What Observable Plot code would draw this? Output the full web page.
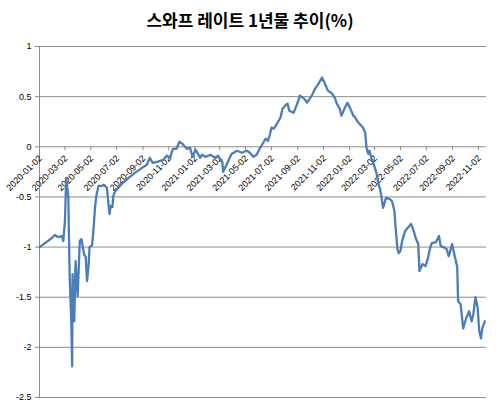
<!DOCTYPE html>
<html><head><meta charset="utf-8">
<script src="https://cdn.jsdelivr.net/npm/d3@7"></script>
<script src="https://cdn.jsdelivr.net/npm/@observablehq/plot@0.6"></script>
<style>
body{margin:0;background:#fff;width:500px;height:406px;overflow:hidden;}
#title{height:36px;line-height:36px;text-align:center;font-family:"Noto Sans CJK KR","Noto Sans",sans-serif;font-weight:700;font-size:17px;color:#000;padding-top:2px;box-sizing:border-box;}
</style></head><body>
<div id="title">스와프 레이트 1년물 추이(%)</div>
<div id="chart"></div>
<script>
const dates = ["2020-01-02","2020-01-15","2020-01-31","2020-02-07","2020-02-14","2020-02-24","2020-02-27","2020-03-02","2020-03-05","2020-03-10","2020-03-13","2020-03-17","2020-03-19","2020-03-20","2020-03-24","2020-03-27","2020-04-01","2020-04-06","2020-04-10","2020-04-16","2020-04-20","2020-04-23","2020-04-27","2020-04-29","2020-05-05","2020-05-08","2020-05-12","2020-05-15","2020-05-20","2020-05-28","2020-06-02","2020-06-09","2020-06-11","2020-06-15","2020-06-18","2020-06-22","2020-06-24","2020-06-29","2020-07-14","2020-07-30","2020-08-14","2020-08-31","2020-09-11","2020-09-18","2020-09-25","2020-10-05","2020-10-20","2020-10-28","2020-11-05","2020-11-09","2020-11-12","2020-11-20","2020-11-27","2020-12-04","2020-12-14","2020-12-22","2020-12-28","2021-01-04","2021-01-07","2021-01-15","2021-01-19","2021-01-27","2021-02-08","2021-02-19","2021-02-26","2021-03-08","2021-03-10","2021-03-18","2021-03-30","2021-04-12","2021-04-23","2021-05-05","2021-05-12","2021-05-20","2021-05-28","2021-06-04","2021-06-11","2021-06-18","2021-06-24","2021-06-28","2021-07-02","2021-07-07","2021-07-12","2021-07-19","2021-07-23","2021-07-28","2021-08-03","2021-08-09","2021-08-13","2021-08-23","2021-08-31","2021-09-07","2021-09-15","2021-09-24","2021-10-05","2021-10-13","2021-10-21","2021-10-29","2021-11-05","2021-11-12","2021-11-22","2021-11-29","2021-12-03","2021-12-10","2021-12-14","2021-12-22","2021-12-28","2022-01-03","2022-01-11","2022-01-14","2022-01-21","2022-02-03","2022-02-08","2022-02-11","2022-02-15","2022-02-18","2022-02-23","2022-02-28","2022-03-07","2022-03-11","2022-03-15","2022-03-18","2022-03-22","2022-03-29","2022-04-06","2022-04-12","2022-04-18","2022-04-20","2022-04-25","2022-04-28","2022-05-02","2022-05-06","2022-05-13","2022-05-23","2022-05-27","2022-06-01","2022-06-07","2022-06-13","2022-06-16","2022-06-23","2022-06-30","2022-07-06","2022-07-11","2022-07-15","2022-07-25","2022-08-01","2022-08-05","2022-08-11","2022-08-19","2022-08-24","2022-09-01","2022-09-06","2022-09-13","2022-09-15","2022-09-21","2022-09-27","2022-10-04","2022-10-11","2022-10-17","2022-10-21","2022-10-26","2022-10-31","2022-11-04","2022-11-08","2022-11-11","2022-11-17"];
const values = [-1.00,-0.96,-0.91,-0.88,-0.90,-0.89,-0.94,-0.74,-0.31,-0.50,-1.27,-1.75,-2.19,-1.27,-1.74,-1.14,-1.49,-0.94,-0.92,-1.07,-1.10,-1.34,-1.17,-1.00,-0.98,-0.84,-0.60,-0.49,-0.39,-0.39,-0.38,-0.41,-0.50,-0.67,-0.59,-0.60,-0.49,-0.44,-0.37,-0.31,-0.26,-0.21,-0.18,-0.11,-0.16,-0.15,-0.13,-0.09,-0.11,-0.05,-0.02,-0.02,0.05,0.03,-0.02,-0.01,-0.10,-0.03,-0.05,-0.11,-0.08,-0.10,-0.08,-0.11,-0.09,-0.15,-0.25,-0.18,-0.07,-0.04,-0.06,-0.04,-0.06,-0.10,-0.08,-0.02,0.03,0.08,0.06,0.12,0.19,0.18,0.21,0.26,0.29,0.38,0.41,0.43,0.36,0.34,0.42,0.51,0.49,0.44,0.51,0.58,0.63,0.69,0.63,0.56,0.53,0.48,0.43,0.38,0.31,0.39,0.44,0.39,0.31,0.30,0.25,0.19,0.14,-0.01,-0.07,-0.04,-0.12,-0.17,-0.27,-0.37,-0.42,-0.49,-0.61,-0.51,-0.52,-0.54,-0.64,-0.77,-1.02,-1.06,-1.04,-0.94,-0.84,-0.79,-0.77,-0.82,-0.91,-0.97,-1.24,-1.17,-1.19,-1.11,-1.01,-0.96,-0.95,-0.89,-0.99,-1.00,-1.02,-1.09,-0.97,-1.07,-1.20,-1.54,-1.57,-1.81,-1.71,-1.64,-1.74,-1.67,-1.50,-1.60,-1.84,-1.91,-1.81,-1.74];
const xTickLabels = ["2020-01-02","2020-03-02","2020-05-02","2020-07-02","2020-09-02","2020-11-02","2021-01-02","2021-03-02","2021-05-02","2021-07-02","2021-09-02","2021-11-02","2022-01-02","2022-03-02","2022-05-02","2022-07-02","2022-09-02","2022-11-02"];
const yTicks = [1, 0.5, 0, -0.5, -1, -1.5, -2, -2.5];

const parse = d3.utcParse("%Y-%m-%d");
const data = dates.map((d, i) => ({date: parse(d), value: values[i]}));
const xTicks = xTickLabels.map(s => ({date: parse(s), label: s}));

const font = "'Liberation Sans', Arial, sans-serif";
const chart = Plot.plot({
  width: 500,
  height: 370,
  marginTop: 10,
  marginBottom: 9,
  marginLeft: 39,
  marginRight: 14,
  style: {fontFamily: font, background: "#fff"},
  x: {type: "utc", domain: [parse("2020-01-02"), parse("2022-11-21")], axis: null},
  y: {domain: [-2.5, 1], label: null},
  marks: [
    Plot.gridY(yTicks, {stroke: "#8c8c8c", strokeOpacity: 1, strokeWidth: 1}),
    Plot.ruleX([parse("2020-01-02")], {stroke: "#8c8c8c", strokeWidth: 1}),
    Plot.axisY(yTicks, {tickSize: 4, tickPadding: 4, stroke: "#8c8c8c", fontSize: 9, fill: "#000", label: null, tickFormat: d => String(d)}),
    Plot.ruleX(xTicks, {x: "date", y1: 0, y2: -0.04, stroke: "#8c8c8c"}),
    Plot.text(xTicks, {x: "date", y: 0, text: "label", rotate: -45, textAnchor: "end", dx: 1, dy: 10, fontSize: 9, fill: "#000"}),
    Plot.line(data, {x: "date", y: "value", stroke: "#4a7ebb", strokeWidth: 2.3, curve: "linear"})
  ]
});
chart.style.display = "block";
document.getElementById("chart").appendChild(chart);
</script>
</body></html>
